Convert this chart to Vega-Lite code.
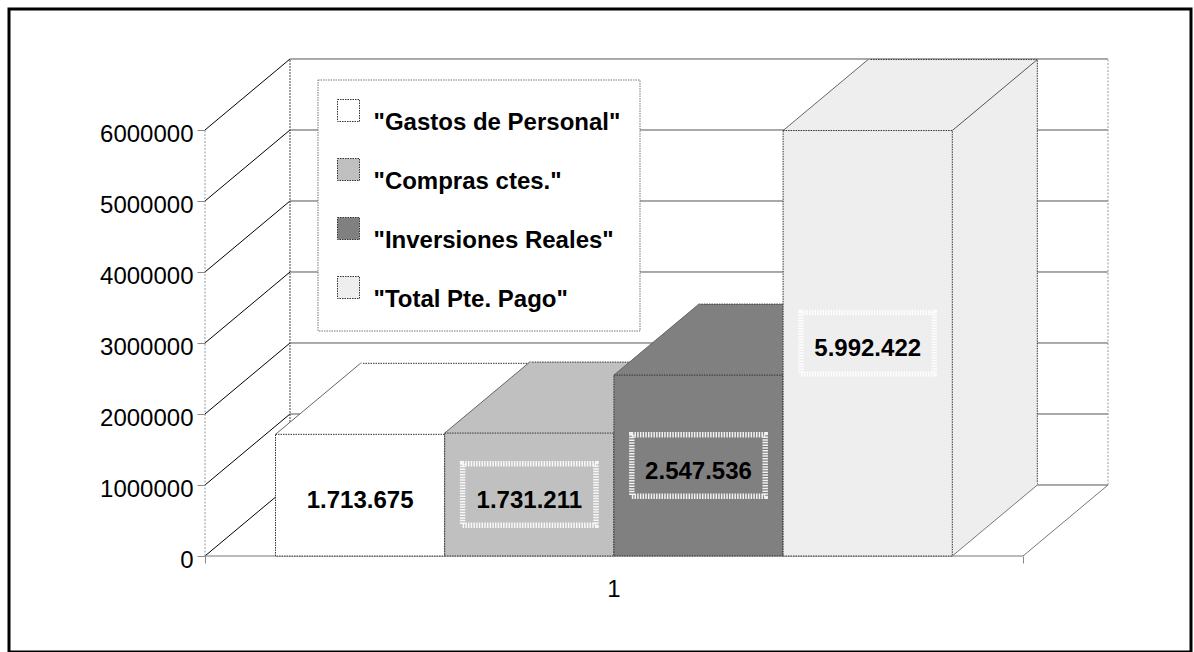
{
  "$schema": "https://vega.github.io/schema/vega-lite/v6.json",
  "autosize": {"type": "none"},
  "width": 1182,
  "height": 643,
  "padding": {"left": 9, "top": 9, "right": 3, "bottom": 0},
  "config": {
    "font": "Liberation Sans",
    "view": {"stroke": "#000000", "strokeWidth": 3},
    "locale": {"number": {"decimal": ",", "thousands": ".", "grouping": [3], "currency": ["", " €"]}},
    "legend": {"strokeColor": "#777777", "strokeDash": [1.5, 1], "strokeWidth": 1, "fillColor": "#ffffff", "padding": 19}
  },
  "datasets": {
    "barras": [
      {"cat": "1", "serie": "\"Gastos de Personal\"", "valor": 1713675},
      {"cat": "1", "serie": "\"Compras ctes.\"", "valor": 1731211},
      {"cat": "1", "serie": "\"Inversiones Reales\"", "valor": 2547536},
      {"cat": "1", "serie": "\"Total Pte. Pago\"", "valor": 5992422}
    ],
    "marcas": [
      {"cat": "1", "v": 0}, {"cat": "1", "v": 1000000}, {"cat": "1", "v": 2000000},
      {"cat": "1", "v": 3000000}, {"cat": "1", "v": 4000000}, {"cat": "1", "v": 5000000},
      {"cat": "1", "v": 6000000}
    ],
    "eje": [{"cat": "1"}]
  },
  "layer": [
    {
      "layer": [
        {
          "data": {"name": "marcas"},
          "mark": {"type": "rule", "xOffset": 85, "x2Offset": 85, "yOffset": -71, "y2Offset": -71, "color": "#555555", "strokeWidth": 1},
          "encoding": {
            "x": {"field": "cat", "type": "nominal", "bandPosition": 0, "scale": {"paddingInner": 0, "paddingOuter": 0.22249, "align": 0.53846}},
            "x2": {"field": "cat", "bandPosition": 1},
            "y": {"field": "v", "type": "quantitative", "scale": {"domain": [-1352113, 7704225], "nice": false, "zero": false},
              "axis": {"orient": "left", "offset": -196, "values": [0, 1000000, 2000000, 3000000, 4000000, 5000000, 6000000], "format": "d", "domain": false, "grid": false, "ticks": true, "tickSize": 8, "tickColor": "#888888", "labelFontSize": 24, "labelPadding": 4, "labelOffset": 4.7, "labelColor": "#000000", "title": null}},
            "y2": {"field": "v"}
          }
        },
        {
          "data": {"name": "marcas"},
          "mark": {"type": "rule", "x2Offset": 85, "y2Offset": -71, "color": "#000000", "strokeWidth": 1},
          "encoding": {
            "x": {"field": "cat", "type": "nominal", "bandPosition": 0},
            "x2": {"field": "cat", "bandPosition": 0},
            "y": {"field": "v", "type": "quantitative"},
            "y2": {"field": "v"}
          }
        },
        {
          "data": {"name": "eje"},
          "mark": {"type": "rule", "color": "#999999", "strokeWidth": 1, "strokeDash": [2, 1.5]},
          "encoding": {
            "x": {"field": "cat", "type": "nominal", "bandPosition": 0},
            "y": {"datum": 0, "type": "quantitative"},
            "y2": {"datum": 6000000}
          }
        },
        {
          "data": {"name": "eje"},
          "mark": {"type": "rule", "xOffset": 85, "yOffset": -71, "y2Offset": -71, "color": "#444444", "strokeWidth": 1, "strokeDash": [2, 1]},
          "encoding": {
            "x": {"field": "cat", "type": "nominal", "bandPosition": 0},
            "y": {"datum": 0, "type": "quantitative"},
            "y2": {"datum": 6000000}
          }
        },
        {
          "data": {"name": "eje"},
          "mark": {"type": "rule", "xOffset": 85, "yOffset": -71, "y2Offset": -71, "color": "#999999", "strokeWidth": 1, "strokeDash": [2, 1.5]},
          "encoding": {
            "x": {"field": "cat", "type": "nominal", "bandPosition": 1},
            "y": {"datum": 0, "type": "quantitative"},
            "y2": {"datum": 6000000}
          }
        },
        {
          "data": {"name": "eje"},
          "mark": {"type": "rule", "color": "#777777", "strokeWidth": 1},
          "encoding": {
            "x": {"field": "cat", "type": "nominal", "bandPosition": 0,
              "axis": {"orient": "bottom", "offset": -96, "bandPosition": 0.5, "domain": false, "grid": false, "ticks": true, "tickBand": "extent", "tickSize": 7, "tickColor": "#888888", "labelFontSize": 24, "labelPadding": 26, "labelOffset": 6, "labelColor": "#000000", "labelAngle": 0, "title": null}},
            "x2": {"field": "cat", "bandPosition": 1},
            "y": {"datum": 0, "type": "quantitative"},
            "y2": {"datum": 0}
          }
        },
        {
          "data": {"name": "eje"},
          "mark": {"type": "rule", "x2Offset": 85, "y2Offset": -71, "color": "#777777", "strokeWidth": 1},
          "encoding": {
            "x": {"field": "cat", "type": "nominal", "bandPosition": 1},
            "x2": {"field": "cat", "bandPosition": 1},
            "y": {"datum": 0, "type": "quantitative"},
            "y2": {"datum": 0}
          }
        }
      ]
    },
    {
      "data": {"name": "barras"},
      "layer": [
        {
          "mark": {"type": "bar", "xOffset": 85, "yOffset": -71, "y2Offset": -71, "stroke": "#333333", "strokeWidth": 1, "strokeDash": [1.5, 1]},
          "encoding": {
            "x": {"field": "serie", "type": "nominal", "scale": {"domain": ["\"Gastos de Personal\"", "\"Compras ctes.\"", "\"Inversiones Reales\"", "\"Total Pte. Pago\""], "range": [266.5, 943.3], "paddingInner": 0, "paddingOuter": 0}, "axis": null},
            "y": {"field": "valor", "type": "quantitative", "scale": {"domain": [-1352113, 7704225], "nice": false, "zero": false}, "axis": null},
            "y2": {"datum": 0},
            "color": {"field": "serie", "type": "nominal", "scale": {"domain": ["\"Gastos de Personal\"", "\"Compras ctes.\"", "\"Inversiones Reales\"", "\"Total Pte. Pago\""], "range": ["#ffffff", "#c0c0c0", "#808080", "#eeeeee"]}}
          }
        },
        {
          "mark": {"type": "point", "shape": "M84.6,0L169.6,-71", "size": 4, "filled": false, "stroke": "#555555", "strokeWidth": 1, "opacity": 1},
          "encoding": {
            "x": {"field": "serie", "type": "nominal", "axis": null},
            "y": {"field": "valor", "type": "quantitative", "axis": null}
          }
        },
        {
          "mark": {"type": "point", "shape": "M-84.6,0L0.4,-71L2,-71L2,0Z", "size": 4, "filled": true, "opacity": 1, "strokeWidth": 0},
          "encoding": {
            "x": {"field": "serie", "type": "nominal", "axis": null},
            "y": {"field": "valor", "type": "quantitative", "axis": null},
            "color": {"field": "serie", "type": "nominal"}
          }
        },
        {
          "mark": {"type": "point", "shape": "M-84.6,0L0.4,-71", "size": 4, "filled": false, "stroke": "#666666", "strokeWidth": 1, "opacity": 1},
          "encoding": {
            "x": {"field": "serie", "type": "nominal", "axis": null},
            "y": {"field": "valor", "type": "quantitative", "axis": null}
          }
        },
        {
          "mark": {"type": "point", "shape": "M84.6,0L169.6,-71L169.6,-73L84.6,-73Z", "size": 4, "filled": true, "opacity": 1, "strokeWidth": 0},
          "encoding": {
            "x": {"field": "serie", "type": "nominal", "axis": null},
            "y": {"datum": 0, "type": "quantitative", "axis": null},
            "color": {"field": "serie", "type": "nominal"}
          }
        },
        {
          "mark": {"type": "point", "shape": "M84.6,0L169.6,-71", "size": 4, "filled": false, "stroke": "#777777", "strokeWidth": 1, "opacity": 1},
          "encoding": {
            "x": {"field": "serie", "type": "nominal", "axis": null},
            "y": {"datum": 0, "type": "quantitative", "axis": null}
          }
        },
        {
          "mark": {"type": "bar", "stroke": "#333333", "strokeWidth": 1, "strokeDash": [1.5, 1]},
          "encoding": {
            "x": {"field": "serie", "type": "nominal", "axis": null},
            "y": {"field": "valor", "type": "quantitative", "axis": null},
            "y2": {"datum": 0},
            "color": {"field": "serie", "type": "nominal",
              "legend": {"title": null, "orient": "none", "legendX": 308.5, "legendY": 70.5, "symbolType": "square", "symbolSize": 484, "symbolStrokeColor": "#555555", "symbolStrokeWidth": 1, "symbolDash": [1.5, 1], "symbolOpacity": 1, "labelFontSize": 24, "labelFontWeight": "bold", "labelColor": "#000000", "labelOffset": 13, "labelBaseline": "top", "labelLimit": 500, "rowPadding": 22}}
          }
        }
      ]
    },
    {
      "data": {"name": "barras"},
      "layer": [
        {
          "mark": {"type": "point", "shape": "M-66.7,-30.7H66.7V30.7H-66.7Z", "size": 4, "filled": false, "stroke": "#ffffff", "strokeWidth": 5.5, "strokeDash": [1.5, 1.2], "opacity": 0.9},
          "encoding": {
            "x": {"field": "serie", "type": "nominal", "scale": {"domain": ["\"Gastos de Personal\"", "\"Compras ctes.\"", "\"Inversiones Reales\"", "\"Total Pte. Pago\""], "range": [266.5, 943.3], "paddingInner": 0, "paddingOuter": 0}, "axis": null},
            "y": {"field": "valor", "type": "quantitative", "scale": {"domain": [-2704226, 15408450], "nice": false, "zero": false}, "axis": null}
          }
        },
        {
          "mark": {"type": "text", "fontSize": 24, "fontWeight": "bold", "color": "#000000", "baseline": "middle", "align": "center", "dy": 6},
          "encoding": {
            "x": {"field": "serie", "type": "nominal", "axis": null},
            "y": {"field": "valor", "type": "quantitative", "axis": null},
            "text": {"field": "valor", "type": "quantitative", "format": ",d"}
          }
        }
      ]
    }
  ],
  "resolve": {"scale": {"x": "independent", "y": "independent"}}
}
